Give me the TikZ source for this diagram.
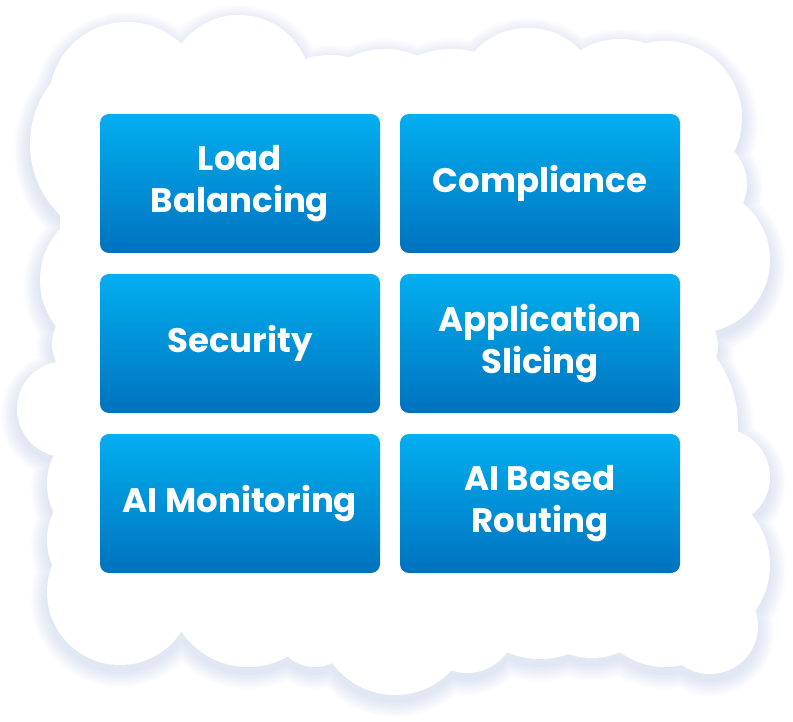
\documentclass[tikz,border=0pt]{standalone}
\usepackage{fontspec}
\setmainfont{Poppins}
\definecolor{tiletop}{RGB}{2,175,240}
\definecolor{tilebot}{RGB}{0,114,190}
\definecolor{cloudshade}{RGB}{140,160,212}
% circles of the cloud: x/y/radius
\newcommand{\cloudparts}{127/100/78, 129/144/99, 239/87/72, 330/135/80, 385/129/80,
  452/139/90, 528/101/73, 620/114/75, 665/118/77, 700/184/47, 697/260/73,
  680/346/38, 623/425/115, 722/477/48, 692/565/78, 710/626/48, 665/592/75,
  592/587/71, 540/578/81, 467/624/49, 395/618/77, 315/627/40, 248/587/80,
  120/592/73, 110/540/63, 110/484/63, 65/409/48, 92/344/40, 115/280/75}
\begin{document}
\begin{tikzpicture}[x=1pt,y=-1pt,inner sep=0pt,outer sep=0pt,
tilebox/.style={rectangle,rounded corners=9pt,minimum width=280pt,minimum height=139pt,
  top color=tiletop,bottom color=tilebot,text=white,align=center,
  font=\fontsize{34}{42}\selectfont\bfseries}]
\useasboundingbox (0,0) rectangle (793,722);

% soft shadow
\foreach \d in {2,4,...,16}
  \fill[cloudshade,opacity=0.035] \foreach \cx/\cy/\cr in \cloudparts {(\cx,\cy+6) circle[radius=\cr+\d]};

% cloud
\fill[white] \foreach \cx/\cy/\cr in \cloudparts {(\cx,\cy) circle[radius=\cr]};
\fill[white] (60,100) rectangle (712,625);

\draw (240,183.5) node[tilebox] (load) {Load\\Balancing};
\draw (540,183.5) node[tilebox] (comply) {Compliance};
\draw (240,343.5) node[tilebox] (secure) {Security};
\draw (540,343.5) node[tilebox] (appslice) {Application\\Slicing};
\draw (240,503.5) node[tilebox] (aimon) {AI Monitoring};
\draw (540,503.5) node[tilebox] (airoute) {AI Based\\Routing};
\end{tikzpicture}
\end{document}
